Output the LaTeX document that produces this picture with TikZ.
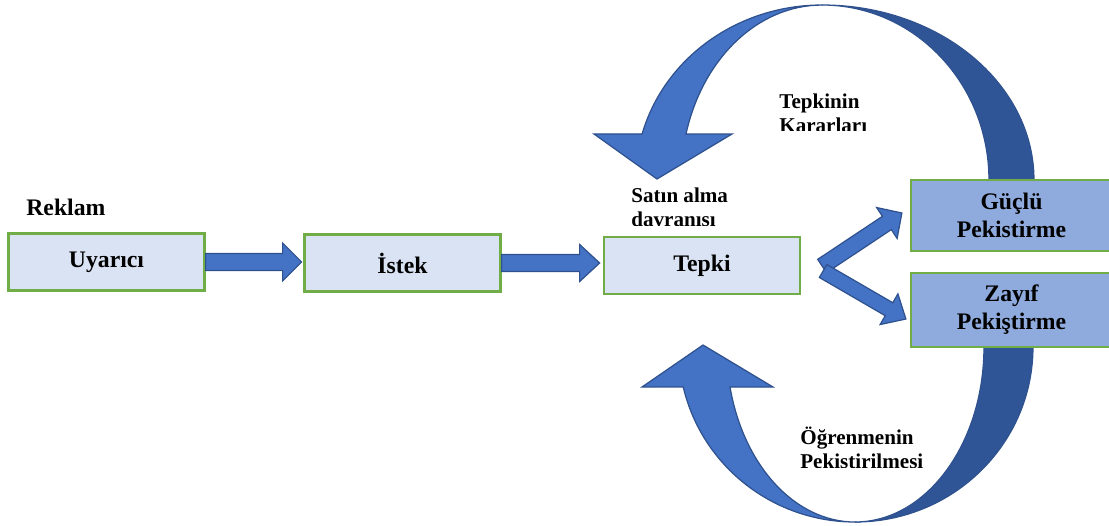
\documentclass[tikz,border=0pt]{standalone}
\usepackage{fontspec}
\setmainfont{Liberation Serif}
\usepackage{tikz}
\usetikzlibrary{calc}

\definecolor{paleblue}{HTML}{DAE3F3}
\definecolor{midblue}{HTML}{8FAADC}
\definecolor{boxgreen}{HTML}{70AD47}
\definecolor{arrowblue}{HTML}{4472C4}
\definecolor{darkarrow}{HTML}{2F5597}
\definecolor{arrowline}{HTML}{2F528F}

% block arrow: tail, tip, shaft half width, head half width, head length
\newcommand{\blockarrow}[5]{%
	\coordinate (hb) at ($(#2)!#5!(#1)$);
	\filldraw[fatarrow] ($(#1)!#3!90:(#2)$) -- ($(hb)!#3!90:(#2)$) -- ($(hb)!#4!90:(#2)$)
		-- (#2) -- ($(hb)!#4!-90:(#2)$) -- ($(hb)!#3!-90:(#2)$) -- ($(#1)!#3!-90:(#2)$) -- cycle;
}

\begin{document}
\begin{tikzpicture}
		[x=0.02cm, y=0.02cm,
		stage/.style={draw=boxgreen, fill=paleblue, line width=1.3pt, minimum width=3.92cm, minimum height=1.14cm, font=\fontsize{13.5}{16}\selectfont\bfseries},
		result/.style={stage, fill=midblue, minimum width=4.02cm, align=center},
		caption/.style={anchor=base west, inner sep=0pt, align=left, font=\fontsize{12}{13.6}\selectfont\bfseries},
		fatarrow/.style={fill=arrowblue, draw=arrowline, line width=0.7pt, line join=miter},
		curvearrow/.style={fill=arrowblue, draw=arrowline, line width=0.7pt},
		curveback/.style={curvearrow, fill=darkarrow}]
		\useasboundingbox (0,0) rectangle (1109,525);
		% arcs behind the boxes
		\coordinate (topc) at (822,345);
		\coordinate (botc) at (855,178);
		\filldraw[curveback] ($(topc)+(0,175)$) arc[start angle=90, end angle=0, x radius=4.24cm, y radius=3.5cm]
			-- ++(-45,0) arc[start angle=0, end angle=90, x radius=3.34cm, y radius=3.5cm] -- cycle;
		\filldraw[curvearrow] ($(topc)+(0,175)$) arc[start angle=90, end angle=164.75, x radius=3.73cm, y radius=3.5cm]
			-- (594,391) -- (657,346) -- (732,391) -- (686,391)
			arc[start angle=164.75, end angle=90, x radius=2.82cm, y radius=3.5cm] -- cycle;
		\filldraw[curveback] ($(botc)+(0,-175)$) arc[start angle=-90, end angle=0, x radius=3.56cm, y radius=3.5cm]
			-- ++(-49,0) arc[start angle=0, end angle=-90, x radius=2.58cm, y radius=3.5cm] -- cycle;
		\filldraw[curvearrow] ($(botc)+(0,-175)$) arc[start angle=-90, end angle=-166.8, x radius=3.53cm, y radius=3.5cm]
			-- (642,138) -- (703,180) -- (773,138) -- (730,138)
			arc[start angle=-166.8, end angle=-90, x radius=2.57cm, y radius=3.5cm] -- cycle;
		\node[stage] (uyarici) at (106.5,263) {Uyarıcı};
		\node[stage] (istek) at (402.5,262) {İstek};
		\node[stage] (tepki) at (702,259.5) {Tepki};
		\node[result, minimum height=1.42cm] (guclu) at (1011.5,309.5) {Güçlü\\Pekistirme};
		\node[result, minimum height=1.48cm] (zayif) at (1011.5,215) {Zayıf\\Pekiştirme};
		\coordinate (tip1) at ($(uyarici.east)+(96,0)$);
		\coordinate (tip2) at ($(istek.east)+(98,0)$);
		\coordinate (tail3) at ($(tepki.east)+(21,-0.5)$);
		\coordinate (tip3) at ($(guclu.west)+(-8,2.5)$);
		\coordinate (tail4) at ($(tepki.east)+(22,-5.5)$);
		\coordinate (tip4) at ($(zayif.west)+(-4,-9)$);
		\blockarrow{uyarici.east}{tip1}{0.17cm}{0.38cm}{0.38cm}
		\blockarrow{istek.east}{tip2}{0.17cm}{0.37cm}{0.4cm}
		\blockarrow{tail3}{tip3}{0.16cm}{0.37cm}{0.36cm}
		\blockarrow{tail4}{tip4}{0.15cm}{0.355cm}{0.39cm}
		\node[caption, font=\fontsize{13.5}{16}\selectfont\bfseries] (reklam) at (26,310) {Reklam};
		\begin{scope}
			\clip (620,300) rectangle (780,345);
			\node[caption] (satin) at (631,299) {Satın alma\\davranısı};
		\end{scope}
		\begin{scope}
			\clip (770,395) rectangle (900,440);
			\node[caption] (karar) at (779,393) {Tepkinin\\Kararları};
		\end{scope}
		\begin{scope}
			\clip (790,58) rectangle (960,105);
			\node[caption] (ogrenme) at (800,57) {Öğrenmenin\\Pekistirilmesi};
		\end{scope}
	\end{tikzpicture}
\end{document}
